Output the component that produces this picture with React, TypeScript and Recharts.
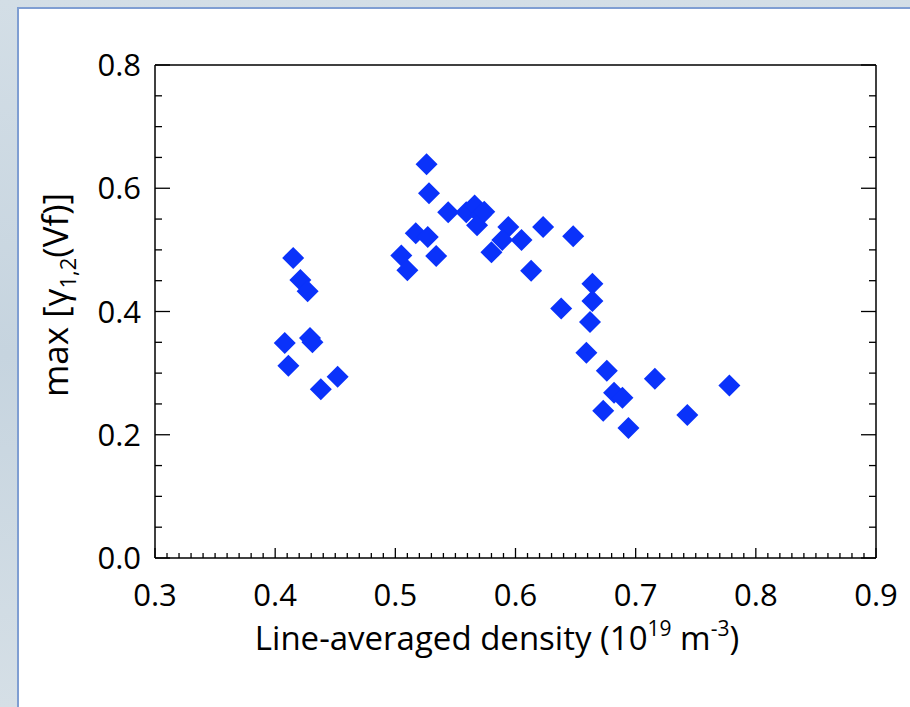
import React from "react";
import { ScatterChart, Scatter, XAxis, YAxis, Label } from "recharts";

// line-averaged density (1e19 m^-3)
const density = [
  0.415, 0.421, 0.427, 0.408, 0.429, 0.431, 0.411, 0.438, 0.452,
  0.526, 0.528, 0.544, 0.517, 0.527, 0.505, 0.51, 0.534,
  0.559, 0.566, 0.571, 0.568, 0.574,
  0.594, 0.589, 0.58, 0.605, 0.623, 0.613, 0.648,
  0.664, 0.664, 0.638, 0.662, 0.659, 0.676, 0.716, 0.778,
  0.682, 0.689, 0.673, 0.743, 0.694,
];

// max gamma_1,2(Vf)
const gamma = [
  0.487, 0.451, 0.433, 0.349, 0.357, 0.35, 0.312, 0.274, 0.294,
  0.639, 0.592, 0.561, 0.527, 0.521, 0.491, 0.467, 0.49,
  0.561, 0.572, 0.556, 0.54, 0.562,
  0.537, 0.516, 0.496, 0.516, 0.537, 0.466, 0.522,
  0.445, 0.417, 0.405, 0.383, 0.333, 0.304, 0.291, 0.28,
  0.268, 0.26, 0.239, 0.232, 0.211,
];

const xMajor = [0.3, 0.4, 0.5, 0.6, 0.7, 0.8, 0.9];
const yMajor = [0.0, 0.2, 0.4, 0.6, 0.8];

const data = density.map((x, i) => ({ x, y: gamma[i] }));

const r2 = (v: number) => Math.round(v * 100) / 100;
const xTicks: number[] = [];
for (let i = 30; i <= 90; i++) xTicks.push(i / 100);
const yTicks: number[] = [];
for (let i = 0; i <= 16; i++) yTicks.push(r2(i * 0.05));

const isMajor = (v: number, majors: number[]) => majors.some((m) => Math.abs(m - v) < 1e-6);

const FONT = "'Open Sans', 'DejaVu Sans', sans-serif";
const BLUE = "#0a32fa";

const Diamond = (props: any) => {
  const { cx, cy } = props;
  const h = 11;
  return (
    <polygon
      points={`${cx},${cy - h} ${cx + h},${cy} ${cx},${cy + h} ${cx - h},${cy}`}
      fill={BLUE}
    />
  );
};

const BottomTick = (props: any) => {
  const { x, y, payload } = props;
  const major = isMajor(payload.value, xMajor);
  return (
    <g>
      <line x1={x} y1={y} x2={x} y2={y - (major ? 10 : 5)} stroke="#000" strokeWidth={1.3} />
      {major && (
        <text x={x} y={y + 48} textAnchor="middle" fontSize={31} fontFamily={FONT} fill="#000">
          {payload.value.toFixed(1)}
        </text>
      )}
    </g>
  );
};

const TopTick = (props: any) => {
  const { x, y, payload } = props;
  const major = isMajor(payload.value, xMajor);
  return <line x1={x} y1={y} x2={x} y2={y + (major ? 10 : 5)} stroke="#000" strokeWidth={1.3} />;
};

const LeftTick = (props: any) => {
  const { x, y, payload } = props;
  const major = isMajor(payload.value, yMajor);
  return (
    <g>
      <line x1={x} y1={y} x2={x + (major ? 15 : 7)} y2={y} stroke="#000" strokeWidth={1.3} />
      {major && (
        <text x={x - 14} y={y + 11} textAnchor="end" fontSize={31} fontFamily={FONT} fill="#000">
          {payload.value.toFixed(1)}
        </text>
      )}
    </g>
  );
};

const RightTick = (props: any) => {
  const { x, y, payload } = props;
  const major = isMajor(payload.value, yMajor);
  return <line x1={x} y1={y} x2={x - (major ? 15 : 7)} y2={y} stroke="#000" strokeWidth={1.3} />;
};

const XTitle = (props: any) => {
  const vb = props.viewBox;
  return (
    <text x={vb.x + 342} y={vb.y + 92} textAnchor="middle" fontSize={33} fontFamily={FONT} fill="#000">
      Line-averaged density (10
      <tspan fontSize={21} dy={-14}>19</tspan>
      <tspan dy={14}> m</tspan>
      <tspan fontSize={21} dy={-14}>-3</tspan>
      <tspan dy={14}>)</tspan>
    </text>
  );
};

const YTitle = (props: any) => {
  const vb = props.viewBox;
  const cx = vb.x + 68;
  const cy = vb.y + 230;
  return (
    <text
      x={cx}
      y={cy}
      transform={`rotate(-90 ${cx} ${cy})`}
      textAnchor="middle"
      fontSize={35}
      fontFamily={FONT}
      fill="#000"
    >
      max [γ
      <tspan fontSize={22} dy={8}>1,2</tspan>
      <tspan dy={-8}>(Vf)]</tspan>
    </text>
  );
};

export default function App() {
  return (
    <div
      style={{
        position: "absolute",
        left: 0,
        top: 0,
        width: 910,
        height: 707,
        overflow: "hidden",
        background: "linear-gradient(180deg, #d3dee6 0%, #c6d4df 50%, #d5dfe6 100%)",
      }}
    >
      <div
        style={{
          position: "absolute",
          left: 17,
          top: 7,
          width: 910,
          height: 720,
          background: "#fff",
          borderLeft: "2px solid #7f9ed2",
          borderTop: "2px solid #7f9ed2",
        }}
      />
      <div style={{ position: "absolute", left: 0, top: 0 }}>
        <ScatterChart width={910} height={707} margin={{ top: 0, right: 0, bottom: 0, left: 0 }}>
          <XAxis
            type="number"
            dataKey="x"
            domain={[0.3, 0.9]}
            ticks={xTicks}
            interval={0}
            height={149}
            tickSize={0}
            tickMargin={0}
            tickLine={false}
            tick={BottomTick}
            axisLine={{ stroke: "#000", strokeWidth: 1.5 }}
            allowDataOverflow
          >
            <Label content={XTitle} />
          </XAxis>
          <XAxis
            xAxisId="top"
            orientation="top"
            type="number"
            domain={[0.3, 0.9]}
            ticks={xTicks}
            interval={0}
            height={65}
            tickSize={0}
            tickMargin={0}
            tickLine={false}
            tick={TopTick}
            axisLine={{ stroke: "#000", strokeWidth: 1.5 }}
            allowDataOverflow
          />
          <YAxis
            type="number"
            dataKey="y"
            domain={[0, 0.8]}
            ticks={yTicks}
            interval={0}
            width={155}
            tickSize={0}
            tickMargin={0}
            tickLine={false}
            tick={LeftTick}
            axisLine={{ stroke: "#000", strokeWidth: 1.5 }}
            allowDataOverflow
          >
            <Label content={YTitle} />
          </YAxis>
          <YAxis
            yAxisId="right"
            orientation="right"
            type="number"
            domain={[0, 0.8]}
            ticks={yTicks}
            interval={0}
            width={34}
            tickSize={0}
            tickMargin={0}
            tickLine={false}
            tick={RightTick}
            axisLine={{ stroke: "#000", strokeWidth: 1.5 }}
            allowDataOverflow
          />
          <Scatter data={data} shape={Diamond} isAnimationActive={false} />
        </ScatterChart>
      </div>
    </div>
  );
}
